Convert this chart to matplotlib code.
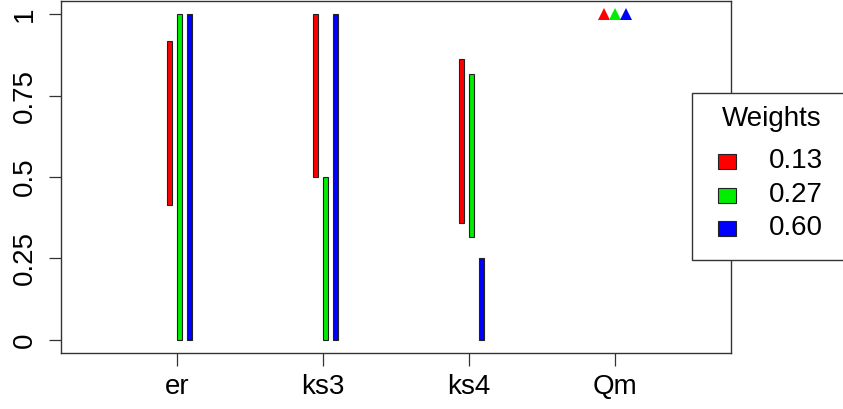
import matplotlib
matplotlib.use("Agg")
import matplotlib.pyplot as plt
from matplotlib.patches import Rectangle

plt.rcParams['font.family'] = ['Liberation Sans', 'DejaVu Sans']

categories = ["er", "ks3", "ks4", "Qm"]
weights = ["0.13", "0.27", "0.60"]
colors = ["#FF0000", "#00EE00", "#0000FF"]
# interval bars for er, ks3, ks4 (low, high) per weight
low_013 = [0.415, 0.50, 0.36]
high_013 = [0.918, 1.00, 0.862]
low_027 = [0.0, 0.0, 0.315]
high_027 = [1.0, 0.50, 0.817]
low_060 = [0.0, 0.0, 0.0]
high_060 = [1.0, 1.0, 0.25]
# Qm point values per weight
qm_values = [1.0, 1.0, 1.0]

W, H = 843, 409
fig = plt.figure(figsize=(W / 100, H / 100), dpi=100)
L, R, T, B = 61, 731, 1, 353
ax = fig.add_axes([L / W, (H - B) / H, (R - L) / W, (B - T) / H])

FS = 20

lows = [low_013, low_027, low_060]
highs = [high_013, high_027, high_060]
bar_offsets = [-0.068, 0.0, 0.068]
bar_w = 0.036
for k in range(3):
    for i in range(3):
        x0 = (i + 1) + bar_offsets[k]
        ax.add_patch(Rectangle((x0, lows[k][i]), bar_w, highs[k][i] - lows[k][i],
                               facecolor=colors[k], edgecolor="#222222", linewidth=0.8))

tri_offsets = [-0.073, 0.0, 0.073]
for k in range(3):
    ax.plot(4 + tri_offsets[k], qm_values[k], marker="^", color=colors[k],
            markersize=8.5, linestyle="none", markeredgewidth=0)

ax.set_xlim(0.205, 4.795)
ax.set_ylim(-0.04, 1.04)
ax.set_xticks([1, 2, 3, 4])
ax.set_xticklabels(categories)
ax.set_yticks([0, 0.25, 0.5, 0.75, 1])
ax.set_yticklabels(["0", "0.25", "0.5", "0.75", "1"], rotation=90, va="center")
ax.tick_params(axis="both", labelsize=FS, length=9, width=0.9, color="#333333")
ax.tick_params(axis="x", pad=6)
ax.tick_params(axis="y", pad=7.5)
for s in ax.spines.values():
    s.set_linewidth(1.0)
    s.set_color("#333333")

# legend drawn manually (box partially outside figure)
def fx(px):
    return px / W
def fy(py):
    return (H - py) / H

fig.patches.append(Rectangle((fx(692), fy(260)), fx(860) - fx(692), fy(93) - fy(260),
                             transform=fig.transFigure, facecolor="white",
                             edgecolor="#333333", linewidth=1.0, zorder=5))
fig.text(fx(772), fy(119), "Weights", ha="center", va="center", fontsize=FS, zorder=6)
entry_y = [161, 195, 228]
for k in range(3):
    fig.patches.append(Rectangle((fx(718), fy(entry_y[k] + 7.5)), fx(736) - fx(718), fy(0) - fy(15),
                                 transform=fig.transFigure, facecolor=colors[k],
                                 edgecolor="#222222", linewidth=0.8, zorder=6))
    fig.text(fx(769), fy(entry_y[k]), weights[k], ha="left", va="center", fontsize=FS, zorder=6)

fig.savefig("out.png", dpi=100)
